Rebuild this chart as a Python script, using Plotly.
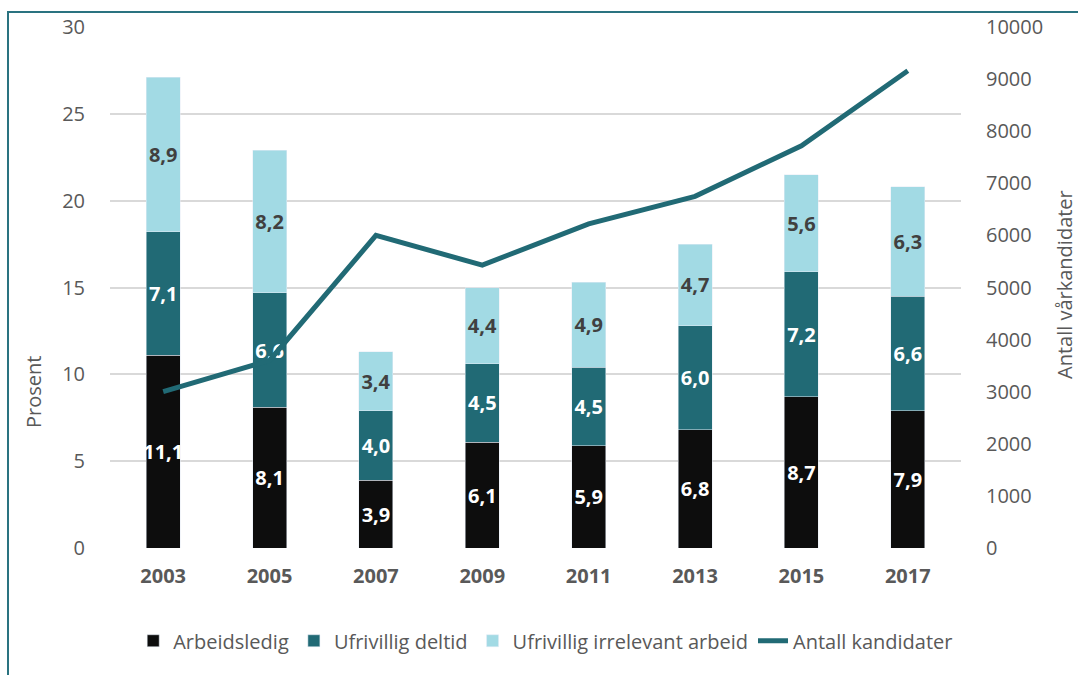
import plotly.graph_objects as go

years = ["2003", "2005", "2007", "2009", "2011", "2013", "2015", "2017"]
arbeidsledig = [11.1, 8.1, 3.9, 6.1, 5.9, 6.8, 8.7, 7.9]
deltid = [7.1, 6.6, 4.0, 4.5, 4.5, 6.0, 7.2, 6.6]
irrelevant = [8.9, 8.2, 3.4, 4.4, 4.9, 4.7, 5.6, 6.3]
kandidater = [3000, 3600, 6000, 5430, 6220, 6750, 7720, 9160]

FONT = "Open Sans"
GRAY = "#595959"

def lbl(vals):
    return [f"{v:.1f}".replace(".", ",") for v in vals]

def bar(y, name, color, tcolor):
    return go.Bar(x=years, y=y, name=name, marker_color=color,
                  text=lbl(y), textposition="inside", insidetextanchor="middle",
                  constraintext="none", textangle=0,
                  textfont=dict(family=FONT, size=20, color=tcolor, weight="bold"))

fig = go.Figure()
fig.add_trace(bar(arbeidsledig, "Arbeidsledig", "#0D0D0D", "white"))
fig.add_trace(bar(deltid, "Ufrivillig deltid", "#216A75", "white"))
fig.add_trace(bar(irrelevant, "Ufrivillig irrelevant arbeid", "#A2DAE4", "#404040"))
fig.add_trace(go.Scatter(x=years, y=kandidater, name="Antall kandidater", yaxis="y2",
                         mode="lines", line=dict(color="#216A75", width=5)))

L, R, T, B = 110, 117, 27, 127
W, H = 1078, 675
pw, ph = W - L - R, H - T - B

fig.update_layout(
    width=W, height=H,
    margin=dict(l=L, r=R, t=T, b=B, autoexpand=False),
    barmode="stack", bargap=0.68,
    plot_bgcolor="white", paper_bgcolor="white",
    font=dict(family=FONT, size=20, color=GRAY),
    uniformtext=dict(minsize=20, mode="show"),
    xaxis=dict(tickfont=dict(size=20, color=GRAY, weight="bold"), showline=False,
               ticks="outside", ticklen=10, tickcolor="rgba(0,0,0,0)"),
    yaxis=dict(range=[0, 30], dtick=5, showgrid=True, gridcolor="#D9D9D9", gridwidth=2,
               zeroline=False, showline=False, ticks="outside", ticklen=20,
               tickcolor="rgba(0,0,0,0)", tickfont=dict(size=20, color=GRAY)),
    yaxis2=dict(range=[0, 10000], dtick=1000, tickformat="d", overlaying="y", side="right",
                showgrid=False, zeroline=False, showline=False, ticks="outside", ticklen=20,
                tickcolor="rgba(0,0,0,0)", tickfont=dict(size=20, color=GRAY)),
    legend=dict(orientation="h", x=0.512, xanchor="center", y=-0.178, yanchor="middle",
                traceorder="normal", font=dict(size=20, color=GRAY), itemwidth=30,
                tracegroupgap=0),
    showlegend=True,
)

fig.add_annotation(text="Prosent", xref="paper", yref="paper",
                   x=(33 - L) / pw, y=(548 - 392) / ph, textangle=-90,
                   showarrow=False, font=dict(size=20, color=GRAY),
                   xanchor="center", yanchor="middle")
fig.add_annotation(text="Antall vårkandidater", xref="paper", yref="paper",
                   x=(1064 - L) / pw, y=(548 - 285) / ph, textangle=-90,
                   showarrow=False, font=dict(size=20, color=GRAY),
                   xanchor="center", yanchor="middle")

fig.add_shape(type="rect", xref="paper", yref="paper",
              x0=(8 - L) / pw, x1=(W + 10 - L) / pw,
              y0=-(B + 10) / ph, y1=1 + (T - 12) / ph,
              line=dict(color="#2A7380", width=2), layer="below")

fig.write_html("out.html")
